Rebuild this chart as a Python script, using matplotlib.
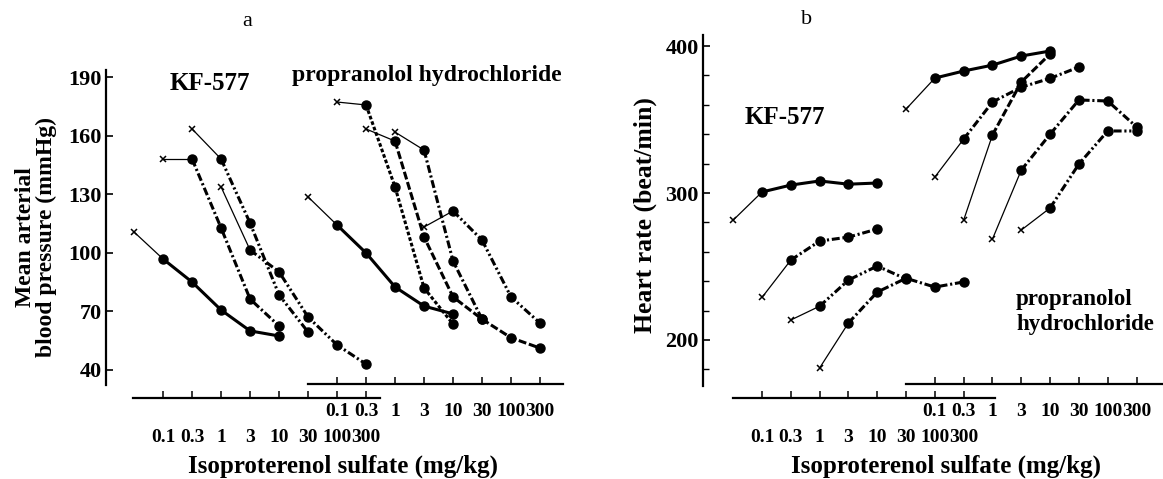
import numpy as np
import matplotlib
matplotlib.use("Agg")
import matplotlib.pyplot as plt

plt.rcParams['font.family'] = ['Liberation Serif', 'DejaVu Serif']
plt.rcParams['font.weight'] = 'bold'

W, H = 1163, 479

# dose labels shared by both x axes
doses = ["0.1", "0.3", "1", "3", "10", "30", "100", "300"]

# --- panel a: mean arterial blood pressure (mmHg) ---
# first dose of each curve, control value (x mark), then values per dose
bp_kf_first = ["0.1", "0.3", "1", "3"]
bp_kf_base = [110.6, 148, 163.4, 133.7]
bp_kf_vals = [[96.8, 85, 70.7, 60, 57.4],
              [148, 112.7, 76.3, 62.5],
              [148, 115.2, 78.4, 59.4],
              [101.4, 90.2, 67.1, 52.8, 43]]

bp_pr_first = ["0.1", "0.3", "1", "3", "10"]
bp_pr_base = [128.6, 177.2, 163.4, 161.8, 113.2]
bp_pr_vals = [[114.2, 99.9, 82.5, 72.7, 68.7],
              [175.7, 133.7, 82, 63.5],
              [157.2, 108.1, 77.4, 66, 56.5, 51.2],
              [152.6, 95.8, 66],
              [121.4, 106.5, 77.4, 64]]

# --- panel b: heart rate (beat/min) ---
hr_kf_first = ["0.1", "0.3", "1", "3"]
hr_kf_base = [281.6, 229, 213.6, 181]
hr_kf_vals = [[300.7, 305.4, 308.2, 306, 306.8],
              [254.4, 267.3, 270, 275.5],
              [223, 240.8, 250.3, 241.5],
              [211.6, 232.6, 242, 236, 239.5]]

hr_pr_first = ["0.1", "0.3", "1", "3", "10"]
hr_pr_base = [357.1, 310.9, 281.6, 268.7, 274.8]
hr_pr_vals = [[378.2, 383, 387, 393.2, 396.6],
              [336.7, 361.9, 372, 378, 385.7],
              [339.5, 375.5, 394.6],
              [315.6, 340, 363.3, 362.6, 345],
              [289.8, 319.7, 342.2, 342.2]]

SOLID = '-'
DASHDOT = (0, (2.6, 0.9, 0.7, 0.9))
DASHDOTDOT = (0, (2.6, 0.9, 0.7, 0.9, 0.7, 0.9))
DASHED = (0, (2.6, 0.9))
DOTTED = (0, (1.2, 0.7))

kf_styles = [SOLID, DASHDOT, DASHDOTDOT, DASHDOTDOT]
bp_pr_styles = [SOLID, DOTTED, DASHED, DASHDOT, DASHDOTDOT]
hr_kf_styles = [SOLID, DASHDOT, DASHDOTDOT, DASHDOT]
hr_pr_styles = [SOLID, DASHDOT, DASHED, DASHDOT, DASHDOTDOT]

PROP_SHIFT = 6  # propranolol axis starts 6 dose steps to the right


def draw_curves(ax, first, base, vals, styles, shift):
    for f, b, v, ls in zip(first, base, vals, styles):
        i0 = doses.index(f) + shift
        pos = np.arange(i0, i0 + len(v))
        # thin line from control (x) to first dose
        ax.plot([i0 - 1, i0], [b, v[0]], color='black', lw=0.9)
        ax.plot(i0 - 1, b, marker='x', color='black', ms=5, mew=1.1)
        ax.plot(pos, v, color='black', lw=2.2, ls=ls, marker='o', ms=6.5)


def to_fig(x, y):
    return x / W, 1 - y / H


def make_axes(fig, left, top, right, bottom, xlim, ylim):
    ax = fig.add_axes([left / W, 1 - bottom / H, (right - left) / W, (bottom - top) / H])
    ax.set_xlim(*xlim)
    ax.set_ylim(*ylim)
    for s in ['top', 'right', 'bottom']:
        ax.spines[s].set_visible(False)
    ax.spines['left'].set_linewidth(1.6)
    ax.set_xticks([])
    ax.tick_params(axis='y', direction='in', length=5, width=1.2, labelsize=16, pad=3)
    ax.tick_params(axis='y', which='minor', direction='in', length=4, width=1.0)
    ax.patch.set_alpha(0)
    return ax


def dose_axis(fig, ax, y_px, lo, hi, shift, pad):
    pos = ax.get_position()
    dx = fig.add_axes([pos.x0, 1 - y_px / H, pos.width, 0.0001])
    dx.set_xlim(ax.get_xlim())
    dx.set_yticks([])
    for s in ['top', 'right', 'left']:
        dx.spines[s].set_visible(False)
    dx.spines['bottom'].set_bounds(lo, hi)
    dx.spines['bottom'].set_linewidth(1.6)
    dx.set_xticks(np.arange(len(doses)) + shift)
    dx.set_xticklabels(doses)
    dx.tick_params(axis='x', direction='in', length=5, width=1.1, labelsize=14, pad=pad)
    dx.patch.set_alpha(0)
    return dx


fig = plt.figure(figsize=(W / 100, H / 100), dpi=100)

# panel a
ax_a = make_axes(fig, 106, 70, 569, 385, (-1.97, 14.0), (32.3, 193.6))
ax_a.set_yticks([40, 70, 100, 130, 160, 190])
draw_curves(ax_a, bp_kf_first, bp_kf_base, bp_kf_vals, kf_styles, 0)
draw_curves(ax_a, bp_pr_first, bp_pr_base, bp_pr_vals, bp_pr_styles, PROP_SHIFT)
dose_axis(fig, ax_a, 398, -1.03, 7.48, 0, 22)
dose_axis(fig, ax_a, 384, 5.0, 13.8, PROP_SHIFT, 14)

# panel b
ax_b = make_axes(fig, 703, 35, 1163, 386, (-2.05, 13.92), (168.7, 407.5))
ax_b.set_yticks([200, 300, 400])
ax_b.set_yticks(np.arange(180, 401, 20), minor=True)
draw_curves(ax_b, hr_kf_first, hr_kf_base, hr_kf_vals, hr_kf_styles, 0)
draw_curves(ax_b, hr_pr_first, hr_pr_base, hr_pr_vals, hr_pr_styles, PROP_SHIFT)
dose_axis(fig, ax_b, 398, -1.0, 8.1, 0, 22)
dose_axis(fig, ax_b, 384, 5.0, 13.9, PROP_SHIFT, 14)

# labels
fig.text(*to_fig(247, 22), "a", ha='center', va='center', fontsize=16, fontweight='normal')
fig.text(*to_fig(807, 20), "b", ha='center', va='center', fontsize=16, fontweight='normal')
fig.text(*to_fig(210, 84), "KF-577", ha='center', va='center', fontsize=18)
fig.text(*to_fig(785, 118), "KF-577", ha='center', va='center', fontsize=18)
fig.text(*to_fig(427, 75), "propranolol hydrochloride", ha='center', va='center', fontsize=17)
fig.text(*to_fig(1016, 312), "propranolol\nhydrochloride", ha='left', va='center',
         fontsize=16.5, linespacing=1.25)
fig.text(*to_fig(343, 466), "Isoproterenol sulfate (mg/kg)", ha='center', va='center', fontsize=18)
fig.text(*to_fig(946, 466), "Isoproterenol sulfate (mg/kg)", ha='center', va='center', fontsize=18)
fig.text(*to_fig(36, 237), "Mean arterial\nblood pressure (mmHg)", ha='center', va='center',
         rotation=90, fontsize=17, linespacing=1.0)
fig.text(*to_fig(645, 215), "Heart rate (beat/min)", ha='center', va='center',
         rotation=90, fontsize=18.5)

fig.savefig("out.png", dpi=100)
